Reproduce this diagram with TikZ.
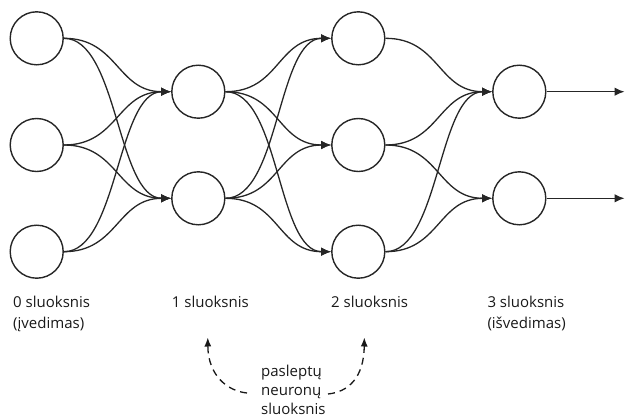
\documentclass[tikz,border=0pt]{standalone}
\usepackage{fontspec}
\setmainfont{Open Sans}
\usetikzlibrary{arrows.meta}
\begin{document}
\begin{tikzpicture}[x=1pt,y=-1pt,
  neuron/.style={circle,draw=black!85,line width=1.4pt,minimum size=53pt,inner sep=0pt},
  edge/.style={draw=black!85,line width=1.3pt,-{Latex[length=10pt,width=8.5pt]}},
  hiddenarrow/.style={draw=black!90,line width=1.3pt,dash pattern=on 7pt off 5pt,
    -{Latex[length=9pt,width=7pt]}},
  layerlabel/.style={inner sep=0pt,anchor=base west,align=left,text=black!90,
    font=\fontsize{15pt}{20.5pt}\selectfont},
  hiddenlabel/.style={inner sep=0pt,anchor=base west,align=left,text=black!90,
    font=\fontsize{15pt}{19pt}\selectfont}]
\useasboundingbox (0,0) rectangle (625,418);

% layer 0 (input)
\node[neuron] (n00) at (36.7,38.3) {};
\node[neuron] (n01) at (36.7,145) {};
\node[neuron] (n02) at (36.7,251.7) {};
% layer 1
\node[neuron] (n10) at (198.3,91.7) {};
\node[neuron] (n11) at (198.3,198.3) {};
% layer 2
\node[neuron] (n20) at (358.3,38.3) {};
\node[neuron] (n21) at (358.3,145) {};
\node[neuron] (n22) at (358.3,251.7) {};
% layer 3 (output)
\node[neuron] (n30) at (519.3,91.7) {};
\node[neuron] (n31) at (519.3,198.3) {};

% output ends
\coordinate (o0) at (624.5,91.7);
\coordinate (o1) at (624.5,198.3);

% layer 0 -> layer 1
\foreach \s in {n00,n01,n02}
  \foreach \t in {n10,n11}
    \draw[edge] (\s.east) .. controls +(54,0) and +(-54,0) .. (\t.west);
% layer 1 -> layer 2
\foreach \s in {n10,n11}
  \foreach \t in {n20,n21,n22}
    \draw[edge] (\s.east) .. controls +(54,0) and +(-54,0) .. (\t.west);
% layer 2 -> layer 3
\foreach \s/\t in {n20/n30,n21/n30,n21/n31,n22/n30,n22/n31}
  \draw[edge] (\s.east) .. controls +(54,0) and +(-54,0) .. (\t.west);
% outputs
\draw[edge] (n30.east) -- (o0);
\draw[edge] (n31.east) -- (o1);

% layer labels (base anchor sits on the last line)
\node[layerlabel] (l0) at (13,328) {0 sluoksnis\\(įvedimas)};
\node[layerlabel] (l1) at (171.7,307.5) {1 sluoksnis};
\node[layerlabel] (l2) at (331,307.5) {2 sluoksnis};
\node[layerlabel] (l3) at (487.3,328) {3 sluoksnis\\(išvedimas)};

% hidden layers note
\node[hiddenlabel] (hid) at (261,414.5) {pasleptų\\neuronų\\sluoksnis};
\coordinate (hs1) at (247,393);
\coordinate (ht1) at (207.8,337.5);
\coordinate (hs2) at (328,394);
\coordinate (ht2) at (364.3,337.5);
\draw[hiddenarrow] (hs1) .. controls (227,391) and (208,375) .. (ht1);
\draw[hiddenarrow] (hs2) .. controls (348,392) and (364,378) .. (ht2);
\end{tikzpicture}
\end{document}
